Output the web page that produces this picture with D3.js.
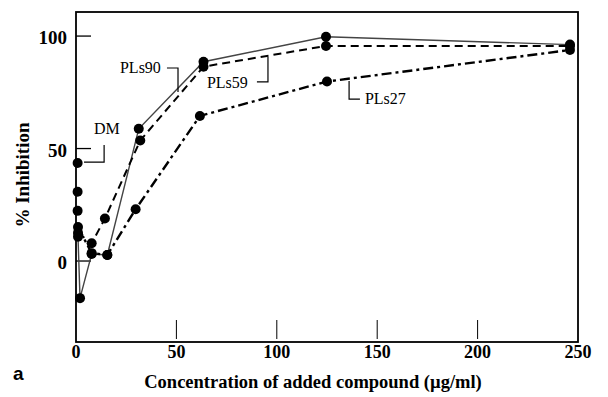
<!DOCTYPE html>
<head>
  <script src="https://cdnjs.cloudflare.com/ajax/libs/d3/7.8.5/d3.min.js"></script>
</head>
<style media="screen">
  body { margin: 0; background: #fff; }
  .serif { font-family: "Liberation Serif", "Times New Roman", serif; }
  .dot { fill: #000; }
</style>
<body>
<script type="text/javascript">
// data (concentration in ug/ml, % inhibition)
var xTicks = [0, 50, 100, 150, 200, 250];
var yTicks = [0, 50, 100];

var dmX = [0.8, 0.8, 0.8];
var dmY = [43.6, 30.8, 22.3];

var pls90X = [1, 2, 7.8, 15.6, 31.25, 63.5, 124.5, 246];
var pls90Y = [10.8, -16.5, 3.1, 2.7, 58.8, 88.6, 99.7, 96.2];

var pls59X = [1, 7.8, 14.4, 32, 63.5, 124.5, 246];
var pls59Y = [12.5, 7.9, 18.9, 53.6, 86.4, 95.6, 95.6];

var pls27X = [1, 7.8, 15.6, 29.7, 61.7, 125, 246];
var pls27Y = [15.1, 3.5, 2.7, 23, 64.5, 79.8, 93.8];

var width = 608, height = 397;
var x = d3.scaleLinear().domain([0, 250]).range([76, 578]);
var y = d3.scaleLinear().domain([-36, 110.7]).range([342, 12]);

var svg = d3.select("body").append("svg")
    .attr("width", width)
    .attr("height", height);

// frame
svg.append("rect")
    .attr("x", x(0)).attr("y", y(110.7))
    .attr("width", x(250) - x(0)).attr("height", y(-36) - y(110.7))
    .attr("fill", "none").attr("stroke", "#000").attr("stroke-width", 1.8);

// inner ticks
svg.selectAll(".ytick").data(yTicks).enter().append("line")
    .attr("x1", x(0)).attr("x2", x(0) + 15)
    .attr("y1", d => y(d)).attr("y2", d => y(d))
    .attr("stroke", "#000").attr("stroke-width", 1.3);
svg.selectAll(".xtick").data(xTicks.slice(1, -1)).enter().append("line")
    .attr("x1", d => x(d)).attr("x2", d => x(d))
    .attr("y1", y(-36) - 3).attr("y2", y(-36) - 22)
    .attr("stroke", "#000").attr("stroke-width", 1);

// tick labels
svg.selectAll(".ylab").data(yTicks).enter().append("text")
    .attr("class", "serif")
    .attr("x", 67).attr("y", d => y(d) + 8)
    .attr("text-anchor", "end")
    .style("font-size", "19px").style("font-weight", "bold")
    .text(d => d);
svg.selectAll(".xlab").data(xTicks).enter().append("text")
    .attr("class", "serif")
    .attr("x", d => x(d)).attr("y", 358)
    .attr("text-anchor", "middle")
    .style("font-size", "18px").style("font-weight", "bold")
    .text(d => d);

// axis titles
svg.append("text")
    .attr("class", "serif")
    .attr("transform", "translate(29,175) rotate(-90)")
    .attr("text-anchor", "middle")
    .style("font-size", "19px").style("font-weight", "bold")
    .text("% Inhibition");
svg.append("text")
    .attr("class", "serif")
    .attr("x", 313).attr("y", 388)
    .attr("text-anchor", "middle")
    .style("font-size", "18.5px").style("font-weight", "bold")
    .text("Concentration of added compound (\u00b5g/ml)");
svg.append("text")
    .attr("x", 13).attr("y", 380)
    .style("font-family", "Liberation Sans, Arial, sans-serif")
    .style("font-size", "19px").style("font-weight", "bold")
    .text("a");

// series
var series = [
  {xs: pls90X, ys: pls90Y, dash: null, w: 1.4, col: "#444"},
  {xs: pls59X, ys: pls59Y, dash: "8,5", w: 2, col: "#000"},
  {xs: pls27X, ys: pls27Y, dash: "10,4,3,4", w: 2.4, col: "#000"}
];

var line = d3.line().x(d => x(d[0])).y(d => y(d[1]));

series.forEach(function(s) {
  var pts = s.xs.map((v, i) => [v, s.ys[i]]);
  svg.append("path")
      .datum(pts)
      .attr("d", line)
      .attr("fill", "none")
      .attr("stroke", s.col)
      .attr("stroke-width", s.w)
      .attr("stroke-dasharray", s.dash);
  svg.selectAll(null).data(pts).enter().append("circle")
      .attr("class", "dot")
      .attr("cx", d => x(d[0])).attr("cy", d => y(d[1]))
      .attr("r", 5);
});

svg.selectAll(null).data(dmX.map((v, i) => [v, dmY[i]])).enter().append("circle")
    .attr("class", "dot")
    .attr("cx", d => x(d[0])).attr("cy", d => y(d[1]))
    .attr("r", 5);

// labels with leader lines (data units)
var labels = [
  {text: "DM", at: [9, 56.4], lead: [[4, 44], [14, 44], [14, 51.6]]},
  {text: "PLs90", at: [21.9, 83.6], lead: [[45.3, 85.8], [50.8, 85.8], [50.8, 75.1]]},
  {text: "PLs59", at: [65.2, 76.9], lead: [[90.1, 79.6], [95.6, 79.6], [95.6, 90.7]]},
  {text: "PLs27", at: [143.9, 69.8], lead: [[136, 80], [136, 72], [141.4, 72]]}
];

labels.forEach(function(l) {
  svg.append("path")
      .attr("d", d3.line().x(d => x(d[0])).y(d => y(d[1]))(l.lead))
      .attr("fill", "none").attr("stroke", "#000").attr("stroke-width", 1.2);
  svg.append("text")
      .attr("class", "serif")
      .attr("x", x(l.at[0])).attr("y", y(l.at[1]))
      .style("font-size", "16px")
      .text(l.text);
});
</script>
</body>
